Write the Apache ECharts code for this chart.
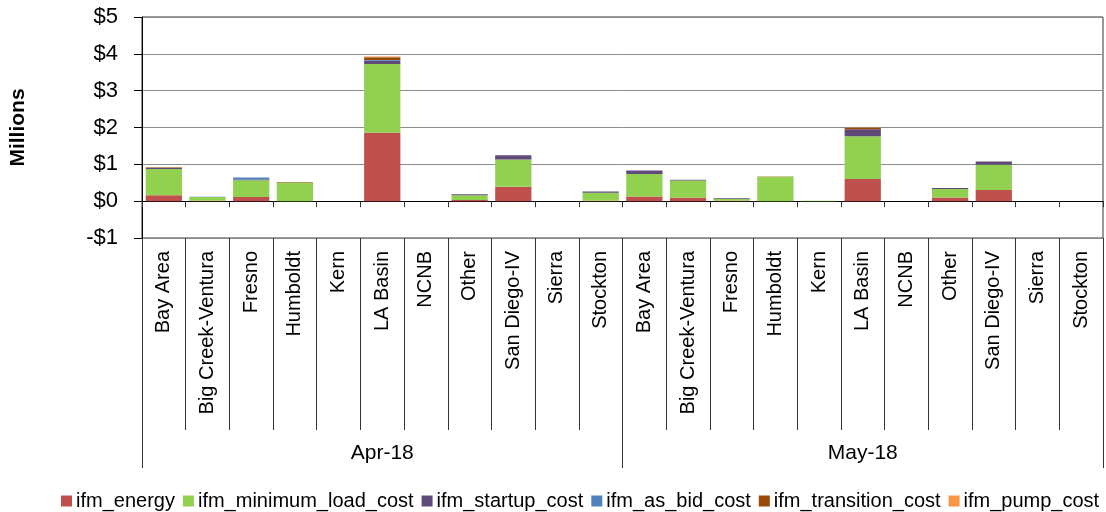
<!DOCTYPE html>
<html>
<head>
<meta charset="utf-8">
<script src="https://cdn.jsdelivr.net/npm/echarts@6/dist/echarts.min.js"></script>
<style>
html,body{margin:0;padding:0;background:#fff;}
#chart{width:1106px;height:512px;}
</style>
</head>
<body>
<div id="chart"></div>
<script>
// ---- data (values in $ millions) ----
const regions = ["Bay Area","Big Creek-Ventura","Fresno","Humboldt","Kern","LA Basin","NCNB","Other","San Diego-IV","Sierra","Stockton"];
const months = ["Apr-18","May-18"];
const yTickLabels = ["-$1","$0","$1","$2","$3","$4","$5"];

const energyApr      = [0.16, 0.01, 0.11, 0.00, 0, 1.855, 0, 0.03, 0.39, 0, 0.01];
const energyMay      = [0.13, 0.09, 0.01, 0.00, 0, 0.60,  0, 0.10, 0.30, 0, 0];
const minLoadApr     = [0.71, 0.10, 0.46, 0.51, 0, 1.87,  0, 0.13, 0.74, 0, 0.22];
const minLoadMay     = [0.61, 0.47, 0.05, 0.66, 0.01, 1.16, 0, 0.23, 0.69, 0, 0];
const startupApr     = [0.03, 0.00, 0.02, 0.00, 0, 0.09,  0, 0.03, 0.12, 0, 0.03];
const startupMay     = [0.09, 0.02, 0.02, 0.00, 0, 0.19,  0, 0.03, 0.09, 0, 0];
const asBidApr       = [0.01, 0.01, 0.05, 0, 0, 0.02, 0, 0, 0, 0, 0];
const asBidMay       = [0, 0, 0, 0, 0, 0, 0, 0, 0, 0, 0];
const transitionApr  = [0.01, 0, 0, 0.01, 0, 0.07, 0, 0, 0, 0, 0];
const transitionMay  = [0, 0, 0, 0.01, 0, 0.04, 0, 0, 0, 0, 0];
const pumpApr        = [0.01, 0, 0, 0, 0, 0.02, 0, 0, 0, 0, 0];
const pumpMay        = [0, 0, 0, 0, 0, 0.01, 0, 0, 0, 0, 0];

const seriesNames = ["ifm_energy","ifm_minimum_load_cost","ifm_startup_cost","ifm_as_bid_cost","ifm_transition_cost","ifm_pump_cost"];
const seriesColors = ["#C0504D","#92D050","#604A7B","#4F81BD","#984807","#F79646"];
const seriesData = [
  energyApr.concat(energyMay),
  minLoadApr.concat(minLoadMay),
  startupApr.concat(startupMay),
  asBidApr.concat(asBidMay),
  transitionApr.concat(transitionMay),
  pumpApr.concat(pumpMay)
];
const categories = regions.concat(regions);

const FONT = "'Liberation Sans', Arial, sans-serif";
const chart = echarts.init(document.getElementById('chart'), null, {renderer:'canvas'});

const option = {
  animation: false,
  backgroundColor: '#fff',
  textStyle: {fontFamily: FONT, color: '#000'},
  legend: {
    data: seriesNames,
    left: 56, top: 486, width: 1060,
    itemWidth: 11, itemHeight: 11, itemGap: 8,
    icon: 'rect',
    textStyle: {fontFamily: FONT, fontSize: 20, color: '#000', padding: [0,0,0,-1]}
  },
  grid: {
    left: 142, right: 3, top: 17, bottom: 274,
    show: true, borderColor: '#333', borderWidth: 1
  },
  yAxis: {
    type: 'value', min: -1, max: 5, interval: 1,
    name: 'Millions', nameLocation: 'middle', nameRotate: 90, nameGap: 113,
    nameTextStyle: {fontFamily: FONT, fontSize: 21, fontWeight: 'bold', color: '#000'},
    axisLine: {show: true, lineStyle: {color: '#000', width: 1}},
    axisTick: {show: true, length: 8, lineStyle: {color: '#000'}},
    axisLabel: {
      fontFamily: FONT, fontSize: 22, color: '#000', margin: 24,
      formatter: function (v) { return yTickLabels[Math.round(v) + 1]; }
    },
    splitLine: {show: true, lineStyle: {color: '#8c8c8c', width: 1}}
  },
  xAxis: [
    {
      type: 'category', data: categories, position: 'bottom',
      axisLine: {show: true, onZero: true, lineStyle: {color: '#000', width: 1}},
      axisTick: {show: true, interval: 0, length: 6, lineStyle: {color: '#333'}},
      axisLabel: {show: false}
    },
    {
      type: 'category', data: categories, position: 'bottom',
      axisLine: {show: false, onZero: false},
      axisTick: {show: true, interval: 0, length: 192, lineStyle: {color: '#333'}},
      axisLabel: {show: true, interval: 0, rotate: 90, margin: 13, fontFamily: FONT, fontSize: 20, color: '#000'}
    },
    {
      type: 'category', data: months, position: 'bottom', offset: 192,
      axisLine: {show: false, onZero: false},
      axisTick: {show: true, interval: 0, length: 38, lineStyle: {color: '#333'}},
      axisLabel: {show: true, interval: 0, margin: 13, fontFamily: FONT, fontSize: 21, color: '#000'}
    }
  ],
  series: seriesNames.map(function (n, i) {
    return {
      name: n, type: 'bar', stack: 'total', xAxisIndex: 0,
      barCategoryGap: '17%',
      itemStyle: {color: seriesColors[i]},
      data: seriesData[i]
    };
  })
};
chart.setOption(option);
</script>
</body>
</html>
